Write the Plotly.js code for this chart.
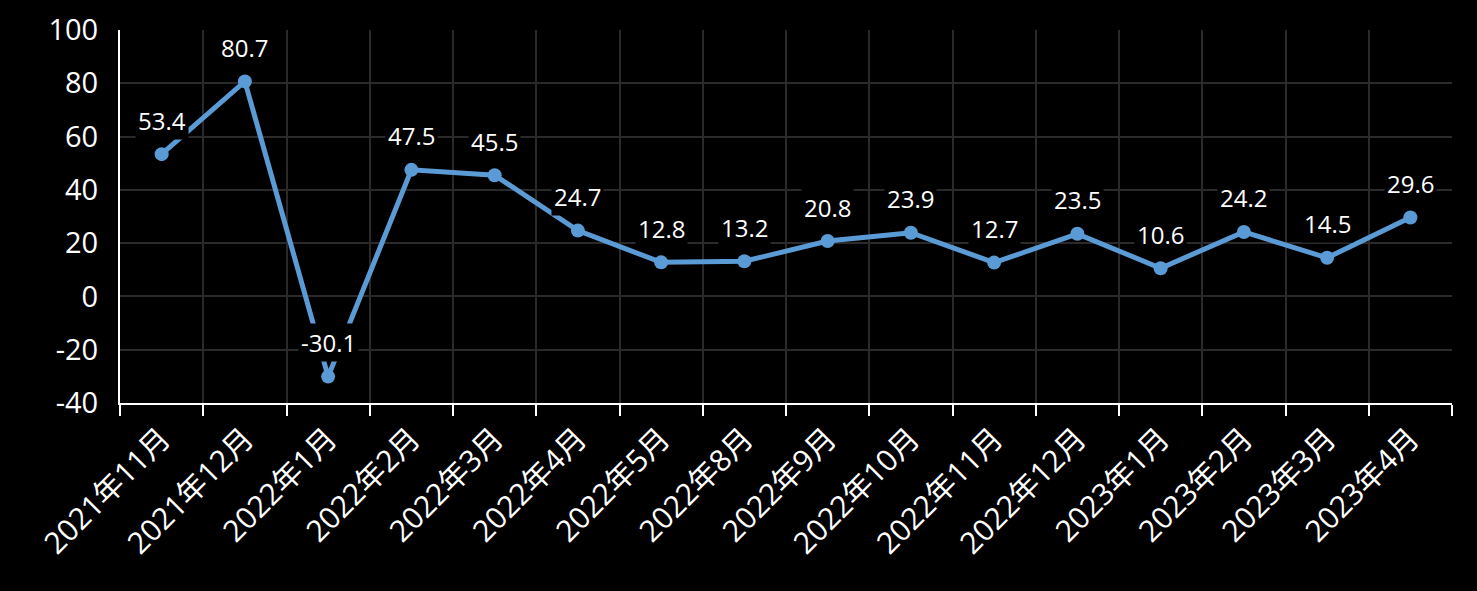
<!DOCTYPE html>
<html>
<head>
<meta charset="utf-8">
<script src="https://cdn.plot.ly/plotly-3.0.1.min.js"></script>
<style>html,body{margin:0;padding:0;background:#000;}#chart{width:1477px;height:591px;}</style>
</head>
<body>
<div id="chart"></div>
<script>
const categories = ["2021年11月","2021年12月","2022年1月","2022年2月","2022年3月","2022年4月","2022年5月","2022年8月","2022年9月","2022年10月","2022年11月","2022年12月","2023年1月","2023年2月","2023年3月","2023年4月"];
const values = [53.4, 80.7, -30.1, 47.5, 45.5, 24.7, 12.8, 13.2, 20.8, 23.9, 12.7, 23.5, 10.6, 24.2, 14.5, 29.6];
const yTicks = [-40, -20, 0, 20, 40, 60, 80, 100];

const fontFam = "'Open Sans', 'Noto Sans CJK SC', sans-serif";

const trace = {
  type: 'scatter',
  mode: 'lines+markers',
  x: categories,
  y: values,
  line: {color: '#5B9BD5', width: 5},
  marker: {color: '#5B9BD5', size: 14},
  hoverinfo: 'skip'
};

const annotations = categories.map((c, i) => ({
  x: c, y: values[i], xref: 'x', yref: 'y',
  text: values[i].toFixed(1),
  showarrow: false,
  yshift: 34,
  bgcolor: '#000',
  borderpad: 2,
  font: {family: fontFam, size: 24, color: '#fff'}
}));

const layout = {
  width: 1477, height: 591,
  paper_bgcolor: '#000', plot_bgcolor: '#000',
  margin: {l: 120, r: 25, t: 30, b: 188},
  showlegend: false,
  xaxis: {
    type: 'category',
    range: [-0.5, 15.5],
    tickson: 'boundaries',
    ticks: 'outside', ticklen: 11, tickwidth: 2, tickcolor: '#fff',
    showline: true, linecolor: '#fff', linewidth: 2,
    showgrid: true, gridcolor: '#2a2a2a', gridwidth: 2,
    tickangle: -45,
    ticklabelstandoff: 4,
    tickfont: {family: fontFam, size: 30, color: '#fff'},
    zeroline: false
  },
  yaxis: {
    range: [-40, 100],
    tickvals: yTicks,
    ticktext: yTicks.map(String),
    showline: true, linecolor: '#fff', linewidth: 2,
    showgrid: true, gridcolor: '#2a2a2a', gridwidth: 2,
    zeroline: false,
    ticks: '', ticklabelstandoff: 14,
    tickfont: {family: fontFam, size: 29, color: '#fff'}
  },
  annotations: annotations
};

Plotly.newPlot('chart', [trace], layout, {displayModeBar: false, staticPlot: true});
</script>
</body>
</html>
